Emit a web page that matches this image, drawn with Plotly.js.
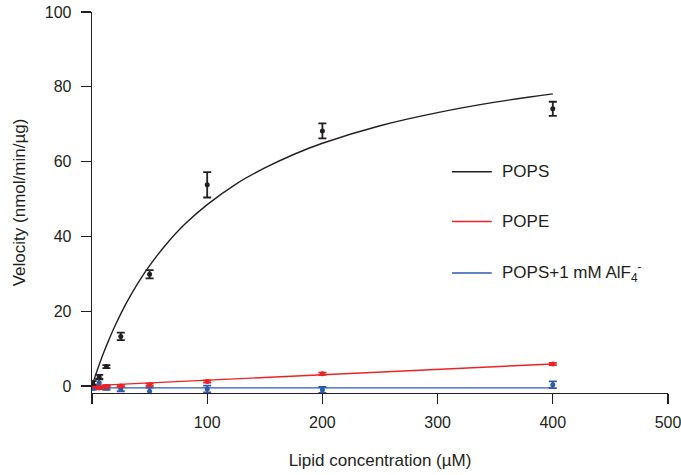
<!DOCTYPE html>
<html>
<head>
<meta charset="utf-8">
<script src="https://cdn.plot.ly/plotly-3.0.1.min.js"></script>
<style>html,body{margin:0;padding:0;background:#fff;}#chart{width:681px;height:475px;}</style>
</head>
<body>
<div id="chart"></div>
<script>
// Lipid concentrations (µM)
const conc = [0.5, 6.25, 12.5, 25, 50, 100, 200, 400];
// POPS measured velocity and error
const popsV   = [0.8, 2.4, 5.2, 13.25, 29.9, 53.8, 68.2, 74.1];
const popsErr = [0.5, 0.6, 0.4, 1.0, 1.1, 3.4, 2.0, 1.9];
// POPE measured velocity and error
const popeV   = [0.1, -0.5, -0.1, 0.0, 0.35, 1.2, 3.3, 5.9];
const popeErr = [0.3, 0.3, 0.3, 0.3, 0.3, 0.3, 0.3, 0.3];
// POPS + AlF4- measured velocity and error
const alfV    = [-0.5, 0.8, -0.5, -0.8, -1.4, -0.8, -1.07, 0.35];
const alfErr  = [0.5, 1.2, 0.5, 0.6, 1.0, 0.9, 0.8, 0.9];
// Fit curve for POPS
const fitX = [0, 2, 5, 10, 15, 20, 30, 40, 50, 65, 80, 100, 125, 150, 175, 200, 250, 300, 350, 400];
const fitY = [0, 1.9, 4.6, 8.8, 12.6, 16.1, 22.3, 27.6, 32.2, 38.1, 43.1, 48.5, 54.0, 58.3, 61.9, 64.9, 69.6, 73.1, 75.9, 78.1];
// Linear fit lines
const popeFitX = [0, 400];
const popeFitY = [0.1, 5.9];
const alfFitX = [0, 400];
const alfFitY = [-0.5, -0.5];
// Tick labels
const xTicks = [0, 100, 200, 300, 400, 500];
const xTickText = ['', '100', '200', '300', '400', '500'];
const yTicks = [0, 20, 40, 60, 80, 100];
// Legend labels
const legendNames = ['POPS', 'POPE', 'POPS+1 mM AlF<sub>4</sub><sup>-</sup>'];

const cBlack = '#231f20', cRed = '#ed2224', cBlue = '#2d5bb0';
const colors = [cBlack, cRed, cBlue];
const font = 'Liberation Sans, Arial, Helvetica, sans-serif';

function pts(y, err, col) {
  return {x: conc, y: y, type: 'scatter', mode: 'markers', showlegend: false,
    marker: {color: col, size: 5},
    error_y: {type: 'data', array: err, visible: true, color: col, thickness: 1.8, width: 4}};
}
function line(x, y, col) {
  return {x: x, y: y, type: 'scatter', mode: 'lines', showlegend: false,
    line: {color: col, width: 1.4, shape: 'spline'}};
}

const data = [
  line(alfFitX, alfFitY, cBlue),
  line(popeFitX, popeFitY, cRed),
  line(fitX, fitY, cBlack),
  pts(alfV, alfErr, cBlue),
  pts(popeV, popeErr, cRed),
  pts(popsV, popsErr, cBlack)
];

const legY = [0.581, 0.450, 0.315];
const shapes = legY.map((y, i) => ({type: 'line', xref: 'paper', yref: 'paper',
  x0: 0.625, x1: 0.694, y0: y, y1: y, line: {color: colors[i], width: 1.5}}));
const annotations = legY.map((y, i) => ({xref: 'paper', yref: 'paper', x: 0.708, y: y,
  xanchor: 'left', yanchor: 'middle', text: legendNames[i], showarrow: false,
  font: {family: font, size: 17, color: '#231f20'}}));

const layout = {
  width: 681, height: 475,
  margin: {l: 92, r: 13, t: 12, b: 82},
  paper_bgcolor: '#fff', plot_bgcolor: '#fff',
  font: {family: font, size: 16, color: '#231f20'},
  showlegend: false,
  xaxis: {range: [0, 500], tickvals: xTicks, ticktext: xTickText, showgrid: false, zeroline: false,
    showline: true, linecolor: cBlack, linewidth: 1.3, ticks: 'outside', ticklen: 10, tickwidth: 1.3,
    tickcolor: cBlack, ticklabelstandoff: 4, ticklabeloverflow: 'allow', tickfont: {size: 16},
    title: {text: 'Lipid concentration (µM)', standoff: 24, font: {size: 17}}},
  yaxis: {range: [-1.87, 100], tickvals: yTicks, showgrid: false, zeroline: false,
    showline: true, linecolor: cBlack, linewidth: 1.3, ticks: 'outside', ticklen: 10, tickwidth: 1.3,
    tickcolor: cBlack, ticklabelstandoff: 6, ticklabeloverflow: 'allow', tickfont: {size: 16},
    title: {text: 'Velocity (nmol/min/µg)', standoff: 14, font: {size: 17}}},
  shapes: shapes,
  annotations: annotations
};

Plotly.newPlot('chart', data, layout, {displayModeBar: false, staticPlot: true});
</script>
</body>
</html>
